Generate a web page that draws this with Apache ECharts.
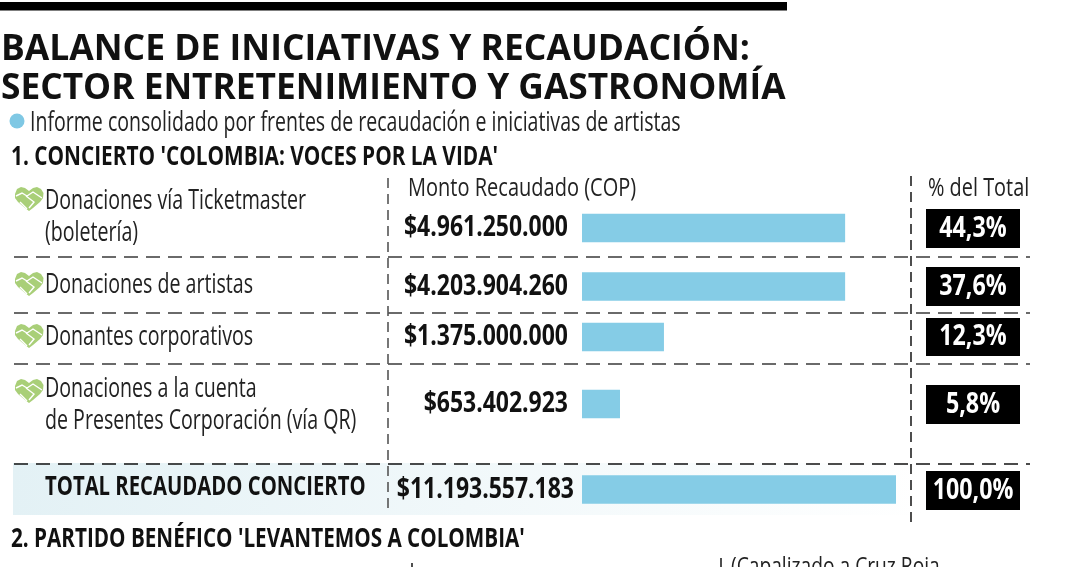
<!DOCTYPE html>
<html><head><meta charset="utf-8">
<style>html,body{margin:0;padding:0;background:#fff}#c{width:1080px;height:567px}</style>
<script src="https://cdn.jsdelivr.net/npm/echarts@6/dist/echarts.min.js"></script>
</head><body><div id="c"></div>
<script>
const titleLines = ['BALANCE DE INICIATIVAS Y RECAUDACIÓN:', 'SECTOR ENTRETENIMIENTO Y GASTRONOMÍA'];
const subtitle = 'Informe consolidado por frentes de recaudación e iniciativas de artistas';
const section1 = "1. CONCIERTO 'COLOMBIA: VOCES POR LA VIDA'";
const section2 = "2. PARTIDO BENÉFICO 'LEVANTEMOS A COLOMBIA'";
const headAmount = 'Monto Recaudado (COP)';
const headShare = '% del Total';
const headCut = '(Capalizado a Cruz Roja';
const categories = [['Donaciones vía Ticketmaster','(boletería)'],['Donaciones de artistas'],['Donantes corporativos'],['Donaciones a la cuenta','de Presentes Corporación (vía QR)']];
const totalLabel = 'TOTAL RECAUDADO CONCIERTO';
const amountLabels = ['$4.961.250.000','$4.203.904.260','$1.375.000.000','$653.402.923','$11.193.557.183'];
const shareLabels = ['44,3%','37,6%','12,3%','5,8%','100,0%'];
// bar lengths as drawn, as % of the longest bar
const barLengths = [83.8,83.8,26.1,12.1,100];

const rowCenter = [228,286.5,337,404,489.5];
const barH = 28.5;
const FONT = '"Open Sans",sans-serif';
const BLUE = '#85cce6', GREEN = '#a9cf78';
const g = [];
function T(x,y,s,size,opt){opt=opt||{};
  g.push({type:'text',x,y,scaleX:opt.sx||.72,originX:0,z:opt.z||10,style:{text:s,fill:opt.fill||'#111',
    font:(opt.w||'normal')+' '+size+'px '+(opt.f||FONT),textAlign:opt.a||'left',textVerticalAlign:'middle',textBaseline:'middle'}});
}
function dash(x1,y1,x2,y2,c,d,w){g.push({type:'line',z:5,shape:{x1,y1,x2,y2},style:{stroke:c,lineWidth:w||1.6,lineDash:d}});}
g.push({type:'rect',shape:{x:0,y:2,width:787,height:8.5},style:{fill:'#000'}});
g.push({type:'rect',z:0,shape:{x:13,y:463,width:910,height:52},style:{fill:{type:'linear',x:0,y:0,x2:1,y2:0,colorStops:[{offset:0,color:'#e3f1f5'},{offset:1,color:'#ffffff'}]}}});
T(1,50,titleLines[0],36,{w:'bold',sx:.985});
T(1,89,titleLines[1],36,{w:'bold',sx:.98});
g.push({type:'circle',shape:{cx:17,cy:121,r:7.5},style:{fill:'#7fc8e4'}});
T(30,123,subtitle,27,{fill:'#222',sx:.724});
T(11,158,section1,26,{w:'bold',sx:.8});
T(11,540,section2,26,{w:'bold',sx:.795});
T(408,189,headAmount,26,{fill:'#222',sx:.77});
T(928,189,headShare,26,{fill:'#222',sx:.765});
T(731,567,headCut,24,{fill:'#222',sx:.8});
[257,313,364,464].forEach((y,i)=>dash(14,y,1030,y,i===3?'#111':'#6a6a6a',[14,8],i===3?1.4:2));
dash(388,178,388,510,'#555',[10,6]);
dash(911,176,911,526,'#222',[10,6]);
dash(412,563,412,567,'#222',[]);
dash(721,558,721,567,'#222',[]);
const textTops=[[201,233],[285],[337],[389,421]];
categories.forEach((lines,i)=>{
  const iy=[199,284,336,391][i];
  g.push({type:'polygon',z:6,x:29,y:iy,shape:{points:[[-14,-5],[-12,-10],[-8,-12],[-4,-11],[0,-8],[4,-11],[8,-12],[12,-10],[14.5,-6],[14,-1],[11,3],[4,9],[0,12],[-4,9],[-11,3],[-14,-1]]},style:{fill:GREEN}});
  g.push({type:'polyline',z:7,x:29,y:iy,shape:{points:[[-13,-3],[-7,-6],[-2,-3],[4,-7],[13,-1]]},style:{stroke:'#fff',lineWidth:1.4,fill:null}});
  g.push({type:'polyline',z:7,x:29,y:iy,shape:{points:[[-3,-3],[5,3],[0,9]]},style:{stroke:'#fff',lineWidth:1.4,fill:null}});
  g.push({type:'polyline',z:7,x:29,y:iy,shape:{points:[[-9,3],[-2,10]]},style:{stroke:'#fff',lineWidth:1.4,fill:null}});
  lines.forEach((s,j)=>T(45,textTops[i][j],s,28,{fill:'#222',sx:.70}));
});
T(45,488,totalLabel,26,{w:'bold',sx:.78});
amountLabels.forEach((s,i)=>T(i===4?574:568,rowCenter[i]+.5,s,28,{w:'bold',a:'right',sx:.82}));
const boxes=[[209,248],[267,306],[318,356],[385,424],[471,510]];
shareLabels.forEach((s,i)=>{
  g.push({type:'rect',z:6,shape:{x:926,y:boxes[i][0],width:94,height:boxes[i][1]-boxes[i][0]},style:{fill:'#000'}});
  T(973,(boxes[i][0]+boxes[i][1])/2+.5,s,28,{w:'bold',fill:'#fff',a:'center',sx:.83});
});
const grids=[],xs=[],ys=[],series=[];
barLengths.forEach((v,i)=>{
  grids.push({left:582,width:314,top:rowCenter[i]-barH/2,height:barH});
  xs.push({type:'value',gridIndex:i,min:0,max:100,show:false});
  ys.push({type:'category',gridIndex:i,data:[i<4?categories[i].join(' '):totalLabel],show:false});
  series.push({type:'bar',xAxisIndex:i,yAxisIndex:i,data:[v],barWidth:'100%',itemStyle:{color:BLUE},silent:true});
});
const chart=echarts.init(document.getElementById('c'),null,{renderer:'canvas'});
chart.setOption({animation:false,grid:grids,xAxis:xs,yAxis:ys,series,graphic:{elements:g}});
</script></body></html>
